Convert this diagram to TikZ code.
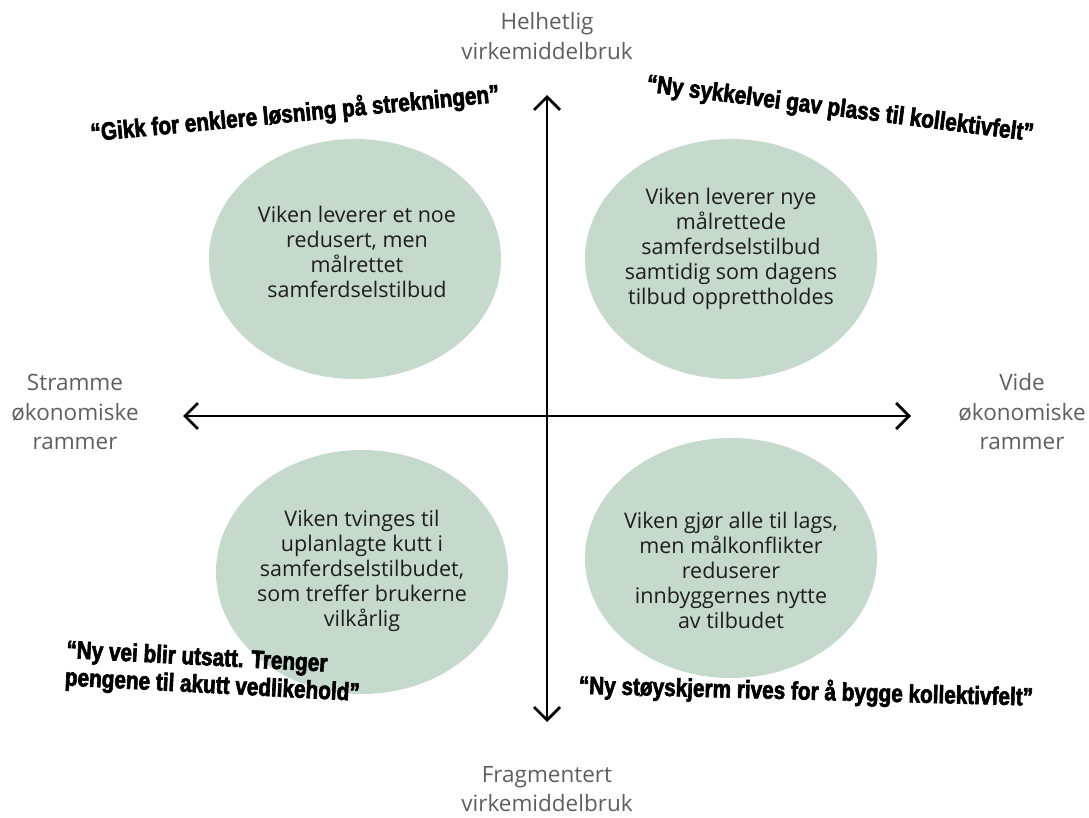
\documentclass[tikz,border=0pt]{standalone}
\usepackage{fontspec}
\setmainfont{Open Sans}
\newfontfamily\quotefont[FakeStretch=0.83,FakeBold=2.5,UprightFont={* Bold}]{Liberation Sans}
\usetikzlibrary{arrows.meta,shapes.geometric}
\definecolor{sage}{RGB}{197,217,205}
\definecolor{axisgray}{RGB}{95,95,95}
\definecolor{bodytext}{RGB}{30,30,30}
\begin{document}
\begin{tikzpicture}[x=1pt,y=-1pt,
  bubble/.style={ellipse,fill=sage,draw=none,inner sep=0pt,minimum width=292pt,minimum height=240pt},
  bubbletext/.style={align=center,text=bodytext,font=\fontsize{21.5}{25}\selectfont},
  axislabel/.style={align=center,text=axisgray,font=\fontsize{22.5}{29.5}\selectfont},
  quote/.style={align=left,text=black,font=\quotefont\fontsize{25}{27.5}\selectfont,inner sep=0pt},
  axis/.style={line width=2.8pt,{Straight Barb[length=13pt,width=26pt,line width=2.8pt]}-{Straight Barb[length=13pt,width=26pt,line width=2.8pt]}}
]
\useasboundingbox (0,0) rectangle (1089,818);
\fill[white] (0,0) rectangle (1089,818);

% bubbles
\node[bubble] (tl) at (355,259) {};
\node[bubble] (tr) at (731,259) {};
\node[bubble,minimum height=244pt] (bl) at (362,572) {};
\node[bubble] (br) at (731,558) {};

% axes
\coordinate (top) at (547,95);
\coordinate (bottom) at (547,722);
\coordinate (left) at (183,416);
\coordinate (right) at (911,416);
\draw[axis] (bottom) -- (top);
\draw[axis] (left) -- (right);

% bubble texts
\node[bubbletext] (tltext) at (357,252) {Viken leverer et noe\\redusert, men\\målrettet\\samferdselstilbud};
\node[bubbletext] (trtext) at (731,249) {Viken leverer nye\\målrettede\\samferdselstilbud\\samtidig som dagens\\tilbud opprettholdes};
\node[bubbletext] (bltext) at (362,571) {Viken tvinges til\\uplanlagte kutt i\\samferdselstilbudet,\\som treffer brukerne\\vilkårlig};
\node[bubbletext] (brtext) at (731,570) {Viken gjør alle til lags,\\men målkonflikter\\reduserer\\innbyggernes nytte\\av tilbudet};

% axis labels
\node[axislabel] (toplabel) at (547,36) {Helhetlig\\virkemiddelbruk};
\node[axislabel] (bottomlabel) at (547,789) {Fragmentert\\virkemiddelbruk};
\node[axislabel] (leftlabel) at (75,412) {Stramme\\økonomiske\\rammer};
\node[axislabel] (rightlabel) at (1022,412) {Vide\\økonomiske\\rammer};

% quotes
\node[quote,rotate=5.5] (q1) at (295,114) {“Gikk for enklere løsning på strekningen”};
\node[quote,rotate=-7.3] (q2) at (840,110) {“Ny sykkelvei gav plass til kollektivfelt”};
\node[quote,rotate=-3] (q3) at (213,673) {“Ny vei blir utsatt. Trenger\\pengene til akutt vedlikehold”};
\node[quote,rotate=-1.5] (q4) at (806,692) {“Ny støyskjerm rives for å bygge kollektivfelt”};
\end{tikzpicture}
\end{document}
